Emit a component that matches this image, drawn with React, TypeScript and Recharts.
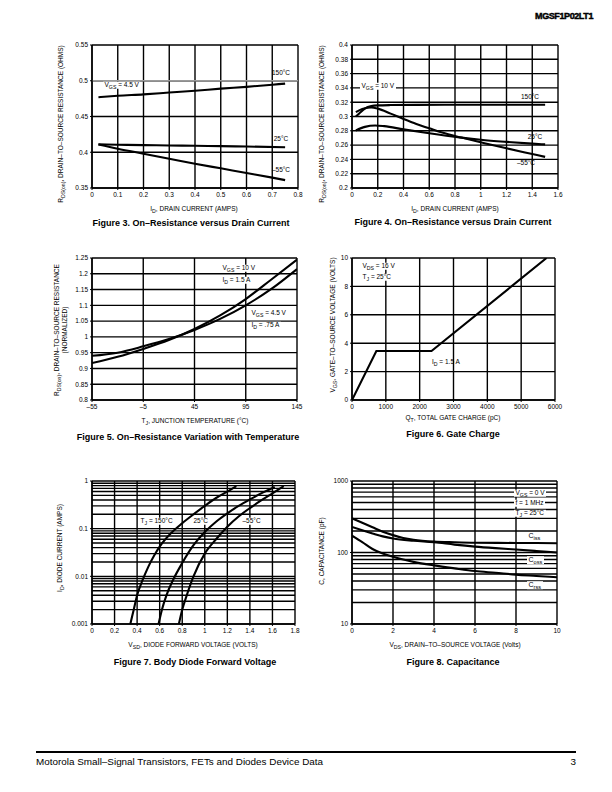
import React from 'react';
import { LineChart, Line, XAxis, YAxis, CartesianGrid, ReferenceLine } from 'recharts';

const FONT = '"Liberation Sans", Arial, Helvetica, sans-serif';

type Pt = { x: number; y: number };
const pts = (a: number[][]): Pt[] => a.map(([x, y]) => ({ x, y }));

// ---------- Figure 3 ----------
const fig3XTicks = [0, 0.1, 0.2, 0.3, 0.4, 0.5, 0.6, 0.7, 0.8];
const fig3YTicks = [0.35, 0.4, 0.45, 0.5, 0.55];
const fig3T150 = pts([[0.025, 0.477], [0.1, 0.479], [0.2, 0.481], [0.3, 0.4835], [0.4, 0.486], [0.5, 0.489], [0.6, 0.4915], [0.7, 0.4945], [0.75, 0.496]]);
const fig3T25 = pts([[0.025, 0.411], [0.1, 0.4105], [0.2, 0.41], [0.3, 0.4095], [0.4, 0.409], [0.5, 0.4085], [0.6, 0.408], [0.75, 0.407]]);
const fig3Tm55 = pts([[0.025, 0.411], [0.1, 0.405], [0.2, 0.398], [0.3, 0.391], [0.4, 0.384], [0.5, 0.3775], [0.6, 0.371], [0.7, 0.3645], [0.75, 0.361]]);

// ---------- Figure 4 ----------
const fig4XTicks = [0, 0.2, 0.4, 0.6, 0.8, 1.0, 1.2, 1.4, 1.6];
const fig4YTicks = [0.2, 0.22, 0.24, 0.26, 0.28, 0.3, 0.32, 0.34, 0.36, 0.38, 0.4];
const fig4T150 = pts([[0.03, 0.3], [0.06, 0.305], [0.1, 0.311], [0.15, 0.3145], [0.2, 0.3155], [0.3, 0.316], [0.5, 0.3163], [1.0, 0.3165], [1.5, 0.3165]]);
const fig4Tm55 = pts([[0.03, 0.306], [0.08, 0.3105], [0.15, 0.3125], [0.2, 0.311], [0.3, 0.304], [0.4, 0.2965], [0.5, 0.2895], [0.6, 0.2835], [0.7, 0.2775], [0.85, 0.2705], [1.0, 0.264], [1.2, 0.2555], [1.4, 0.2475], [1.5, 0.2435]]);
const fig4T25 = pts([[0.03, 0.2805], [0.1, 0.2855], [0.18, 0.2875], [0.25, 0.2865], [0.4, 0.282], [0.6, 0.2765], [0.85, 0.2705], [1.0, 0.2675], [1.2, 0.2645], [1.4, 0.262], [1.5, 0.261]]);

// ---------- Figure 5 ----------
const fig5XTicks = [-55, -5, 45, 95, 145];
const fig5YTicks = [0.8, 0.85, 0.9, 0.95, 1.0, 1.05, 1.1, 1.15, 1.2, 1.25];
const fig5Vgs10 = pts([[-55, 0.917], [-30, 0.937], [-5, 0.962], [20, 0.99], [45, 1.025], [70, 1.068], [95, 1.12], [120, 1.182], [145, 1.245]]);
const fig5Vgs45 = pts([[-55, 0.94], [-30, 0.95], [-5, 0.97], [20, 0.993], [45, 1.022], [70, 1.057], [95, 1.1], [120, 1.152], [145, 1.215]]);

// ---------- Figure 6 ----------
const fig6XTicks = [0, 1000, 2000, 3000, 4000, 5000, 6000];
const fig6YTicks = [0, 2, 4, 6, 8, 10];
const fig6Gate = pts([[0, 0], [720, 3.45], [2350, 3.45], [5750, 10]]);

// ---------- Figure 7 ----------
const fig7XTicks = [0, 0.2, 0.4, 0.6, 0.8, 1.0, 1.2, 1.4, 1.6, 1.8];
const fig7YTicks = [0.001, 0.01, 0.1, 1];
const fig7T150 = pts([[0.34, 0.001], [0.37, 0.002], [0.4, 0.004], [0.45, 0.0085], [0.5, 0.016], [0.55, 0.027], [0.6, 0.042], [0.7, 0.08], [0.8, 0.13], [0.9, 0.2], [1.0, 0.3], [1.1, 0.44], [1.2, 0.6], [1.28, 0.78]]);
const fig7T25 = pts([[0.59, 0.001], [0.62, 0.002], [0.66, 0.004], [0.72, 0.0085], [0.8, 0.019], [0.9, 0.045], [1.0, 0.085], [1.1, 0.14], [1.2, 0.21], [1.3, 0.3], [1.4, 0.41], [1.5, 0.55], [1.62, 0.75]]);
const fig7Tm55 = pts([[0.77, 0.001], [0.8, 0.002], [0.84, 0.004], [0.9, 0.01], [1.0, 0.03], [1.1, 0.06], [1.2, 0.11], [1.3, 0.18], [1.4, 0.27], [1.5, 0.39], [1.6, 0.55], [1.7, 0.78]]);

// ---------- Figure 8 ----------
const fig8XTicks = [0, 2, 4, 6, 8, 10];
const fig8YTicks = [10, 100, 1000];
const fig8Ciss = pts([[0, 300], [0.5, 260], [1, 225], [1.5, 195], [2, 175], [2.5, 160], [3, 151], [4, 142], [5, 139], [6, 137], [8, 136], [10, 135]]);
const fig8Coss = pts([[0, 228], [0.5, 205], [1, 185], [1.5, 168], [2, 157], [3, 146], [4, 139], [5, 129], [6, 121], [7, 115], [8, 110], [9, 105], [10, 100]]);
const fig8Crss = pts([[0, 172], [0.5, 140], [1, 112], [1.5, 97], [2, 87], [3, 74], [4, 66], [5, 60], [6, 55], [7, 52], [8, 49], [9, 47], [10, 45]]);

const logGrid = (lo: number, hi: number) => {
  const out: number[] = [];
  for (let d = lo; d < hi * 0.999; d *= 10) for (let k = 1; k <= 9; k++) out.push(k * d);
  out.push(hi);
  return out;
};

const YW = 40;
const XH = 20;
const PAD = 6;
const PADR = 16;
const GRID_W = 1.4;
const tickStyle = { fontSize: 6.5, fill: '#000', fontFamily: FONT };

type PanelProps = {
  left: number; top: number; w: number; h: number;
  xDomain: [number, number]; yDomain: [number, number];
  xTicks: number[]; yTicks: number[];
  xFmt?: (v: number) => string; yFmt?: (v: number) => string;
  logY?: boolean; series: Pt[][]; curve?: 'monotone' | 'linear';
  greyY?: number;
};

function Panel(p: PanelProps) {
  const grid = p.logY ? logGrid(p.yDomain[0], p.yDomain[1]) : [];
  return (
    <div style={{ position: 'absolute', left: p.left - YW, top: p.top - PAD }}>
      <LineChart width={p.w + YW + PADR} height={p.h + PAD + XH} margin={{ top: PAD, right: PADR, left: 0, bottom: 0 }}>
        <CartesianGrid stroke="#000" strokeWidth={GRID_W} horizontal={!p.logY} vertical={true} />
        {grid.map((g) => (
          <ReferenceLine key={g} y={g} stroke="#000" strokeWidth={GRID_W} ifOverflow="extendDomain" />
        ))}
        {p.greyY !== undefined && <ReferenceLine y={p.greyY} stroke="#9a9a9a" strokeWidth={1.5} />}
        <XAxis type="number" dataKey="x" domain={p.xDomain} ticks={p.xTicks} interval={0}
          tickFormatter={p.xFmt} tick={tickStyle} tickSize={2} tickLine={{ stroke: '#000' }}
          axisLine={{ stroke: '#000', strokeWidth: GRID_W }} height={XH} allowDataOverflow />
        <YAxis type="number" dataKey="y" domain={p.yDomain} ticks={p.yTicks} interval={0}
          scale={p.logY ? 'log' : 'auto'} tickFormatter={p.yFmt} tick={tickStyle} tickSize={2}
          tickLine={{ stroke: '#000' }} axisLine={{ stroke: '#000', strokeWidth: GRID_W }} width={YW} allowDataOverflow />
        {p.series.map((s, i) => (
          <Line key={i} data={s} dataKey="y" type={p.curve || 'monotone'} stroke="#000" strokeWidth={2.1}
            dot={false} isAnimationActive={false} />
        ))}
      </LineChart>
    </div>
  );
}

const S = ({ children }: { children: React.ReactNode }) => (
  <span style={{ fontSize: '0.8em', position: 'relative', top: '0.35em' }}>{children}</span>
);

type TProps = {
  x: number; y: number; children: React.ReactNode; size?: number; bold?: boolean;
  anchor?: 'start' | 'middle' | 'end'; bg?: boolean; rot?: boolean; style?: React.CSSProperties;
};
function T({ x, y, children, size = 6.5, bold, anchor = 'start', bg, rot, style }: TProps) {
  const tx = anchor === 'start' ? '0' : anchor === 'middle' ? '-50%' : '-100%';
  return (
    <div style={{
      position: 'absolute', left: x, top: y, whiteSpace: 'nowrap', fontFamily: FONT, fontSize: size,
      fontWeight: bold ? 700 : 400, lineHeight: 1, color: '#000',
      background: bg ? '#fff' : 'transparent', padding: bg ? '0 1.5px' : 0,
      transform: rot ? 'translate(-50%,-50%) rotate(-90deg)' : `translate(${tx},-50%)`,
      ...style,
    }}>{children}</div>
  );
}

const f1 = (v: number) => String(+v.toFixed(1));
const f2 = (v: number) => String(+v.toFixed(2));
const fT = (v: number) => (v < 0 ? '–' + Math.abs(v) : String(v));

export default function App() {
  return (
    <div style={{ position: 'absolute', left: 0, top: 0, width: 612, height: 792, background: '#fff' }}>
      <T x={593} y={16} size={9} bold anchor="end"
        style={{ fontWeight: 900, letterSpacing: -0.4, WebkitTextStroke: '0.45px #000' }}>MGSF1P02LT1</T>

      {/* Figure 3 */}
      <Panel left={92} top={45} w={206} h={143} xDomain={[0, 0.8]} yDomain={[0.35, 0.55]}
        xTicks={fig3XTicks} yTicks={fig3YTicks} xFmt={f1} yFmt={f2} greyY={0.5}
        series={[fig3T150, fig3T25, fig3Tm55]} />
      <T x={61} y={124} rot>R<S>DS(on)</S>, DRAIN–TO–SOURCE RESISTANCE (OHMS)</T>
      <T x={194} y={209} anchor="middle">I<S>D</S>, DRAIN CURRENT (AMPS)</T>
      <T x={191} y={223} size={9} bold anchor="middle">Figure 3. On–Resistance versus Drain Current</T>
      <T x={103} y={85} bg>V<S>GS</S> = 4.5  V</T>
      <T x={281} y={73} anchor="middle">150°C</T>
      <T x={281} y={139} anchor="middle">25°C</T>
      <T x={281} y={170} anchor="middle">–55°C</T>

      {/* Figure 4 */}
      <Panel left={352} top={45} w={206} h={143} xDomain={[0, 1.6]} yDomain={[0.2, 0.4]}
        xTicks={fig4XTicks} yTicks={fig4YTicks} xFmt={f1} yFmt={f2}
        series={[fig4T150, fig4Tm55, fig4T25]} />
      <T x={322} y={124} rot>R<S>DS(on)</S>, DRAIN–TO–SOURCE RESISTANCE (OHMS)</T>
      <T x={455} y={209} anchor="middle">I<S>D</S>, DRAIN CURRENT (AMPS)</T>
      <T x={453} y={222} size={9} bold anchor="middle">Figure 4. On–Resistance versus Drain Current</T>
      <T x={360} y={86} bg>V<S>GS</S> = 10 V</T>
      <T x={530} y={97} anchor="middle">150°C</T>
      <T x={535} y={137} anchor="middle">25°C</T>
      <T x={526} y={163} anchor="middle">–55°C</T>

      {/* Figure 5 */}
      <Panel left={92} top={258} w={205} h={142} xDomain={[-55, 145]} yDomain={[0.8, 1.25]}
        xTicks={fig5XTicks} yTicks={fig5YTicks} xFmt={fT} yFmt={f2}
        series={[fig5Vgs10, fig5Vgs45]} />
      <T x={57} y={330} rot>R<S>DS(on)</S>, DRAIN–TO–SOURCE RESISTANCE</T>
      <T x={65} y={330} rot>(NORMALIZED)</T>
      <T x={195} y={421} anchor="middle">T<S>J</S>, JUNCTION TEMPERATURE (°C)</T>
      <T x={188} y={437} size={9} bold anchor="middle">Figure 5. On–Resistance Variation with Temperature</T>
      <T x={221} y={268} bg>V<S>GS</S> = 10 V</T>
      <T x={221} y={280} bg>I<S>D</S> = 1.5 A</T>
      <T x={250} y={313} bg>V<S>GS</S> = 4.5 V</T>
      <T x={250} y={325} bg>I<S>D</S> = .75 A</T>

      {/* Figure 6 */}
      <Panel left={352} top={258} w={203} h={142} xDomain={[0, 6000]} yDomain={[0, 10]}
        xTicks={fig6XTicks} yTicks={fig6YTicks} curve="linear"
        series={[fig6Gate]} />
      <T x={333} y={325} rot>V<S>GS</S>, GATE–TO–SOURCE VOLTAGE (VOLTS)</T>
      <T x={453} y={418} anchor="middle">Q<S>T</S>, TOTAL GATE CHARGE (pC)</T>
      <T x={453} y={434} size={9} bold anchor="middle">Figure 6. Gate Charge</T>
      <T x={361} y={266} bg>V<S>DS</S> = 16 V</T>
      <T x={361} y={277} bg>T<S>J</S> = 25°C</T>
      <T x={432} y={362}>I<S>D</S> = 1.5 A</T>

      {/* Figure 7 */}
      <Panel left={92} top={481} w={203} h={143} xDomain={[0, 1.8]} yDomain={[0.001, 1]}
        xTicks={fig7XTicks} yTicks={fig7YTicks} xFmt={f1} yFmt={(v) => String(v)} logY
        series={[fig7T150, fig7T25, fig7Tm55]} />
      <T x={60} y={548} rot>I<S>D</S>, DIODE CURRENT (AMPS)</T>
      <T x={193} y={645} anchor="middle">V<S>SD</S>, DIODE FORWARD VOLTAGE (VOLTS)</T>
      <T x={195} y={662} size={9} bold anchor="middle">Figure 7. Body Diode Forward Voltage</T>
      <T x={139} y={521} bg>T<S>J</S> = 150°C</T>
      <T x={192} y={521} bg>25°C</T>
      <T x={241} y={521} bg>–55°C</T>

      {/* Figure 8 */}
      <Panel left={352} top={481} w={205} h={143} xDomain={[0, 10]} yDomain={[10, 1000]}
        xTicks={fig8XTicks} yTicks={fig8YTicks} logY
        series={[fig8Ciss, fig8Coss, fig8Crss]} />
      <T x={322} y={551} rot>C, CAPACITANCE (pF)</T>
      <T x={455} y={645} anchor="middle">V<S>DS</S>, DRAIN–TO–SOURCE VOLTAGE (Volts)</T>
      <T x={453} y={662} size={9} bold anchor="middle">Figure 8. Capacitance</T>
      <T x={514} y={493} bg>V<S>GS</S> = 0 V</T>
      <T x={514} y={503} bg>f = 1 MHz</T>
      <T x={514} y={513} bg>T<S>J</S> = 25°C</T>
      <T x={527} y={536} size={7} bg>C<S>iss</S></T>
      <T x={527} y={560} size={7} bg>C<S>oss</S></T>
      <T x={527} y={585} size={7} bg>C<S>rss</S></T>

      {/* footer */}
      <div style={{ position: 'absolute', left: 36, top: 751, width: 540, height: 2, background: '#000' }} />
      <T x={36} y={762} size={9.9}>Motorola Small–Signal Transistors, FETs and Diodes Device Data</T>
      <T x={576} y={762} size={9.9} anchor="end">3</T>
    </div>
  );
}
